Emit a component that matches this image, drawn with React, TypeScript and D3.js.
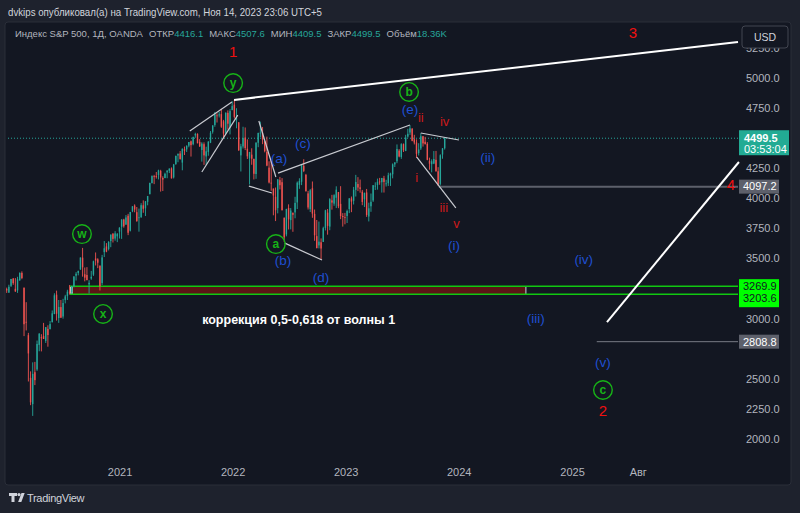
import React from "react";
import * as d3 from "d3";

// ---------- DATA ----------
const firstWeekMonday = "2019-12-30";
// weekly [open, high, low, close]
const weeklyOHLC: [number, number, number, number][] = [
  // 2020
  [3245, 3258, 3214, 3235], [3217, 3282, 3214, 3265], [3273, 3330, 3263, 3330], [3333, 3338, 3281, 3295],
  [3248, 3337, 3223, 3226], [3235, 3348, 3214, 3328], [3318, 3385, 3316, 3380], [3380, 3393, 3328, 3338],
  [3257, 3259, 2855, 2954], [2974, 3137, 2902, 2972], [2863, 2882, 2478, 2711], [2508, 2562, 2281, 2305],
  [2290, 2637, 2192, 2541], [2555, 2641, 2448, 2489], [2578, 2818, 2566, 2790], [2782, 2880, 2729, 2875],
  [2846, 2871, 2728, 2837], [2855, 2965, 2831, 2831], [2815, 2929, 2798, 2930], [2915, 2945, 2767, 2864],
  [2913, 2980, 2911, 2955], [2970, 3068, 2970, 3044], [3038, 3211, 3038, 3194], [3199, 3233, 2984, 3041],
  [3005, 3155, 2965, 3097], [3096, 3155, 3005, 3009], [3018, 3165, 3000, 3130], [3156, 3198, 3127, 3185],
  [3187, 3240, 3155, 3224], [3225, 3280, 3200, 3216], [3219, 3272, 3205, 3271], [3271, 3352, 3260, 3351],
  [3357, 3387, 3317, 3373], [3380, 3399, 3360, 3397], [3410, 3509, 3405, 3508], [3507, 3588, 3349, 3427],
  [3369, 3425, 3310, 3341], [3363, 3428, 3322, 3319], [3285, 3320, 3209, 3298], [3334, 3397, 3323, 3348],
  [3366, 3482, 3355, 3477], [3500, 3550, 3442, 3483], [3493, 3502, 3420, 3465], [3441, 3441, 3234, 3270],
  [3296, 3530, 3280, 3509], [3553, 3645, 3512, 3585], [3600, 3628, 3552, 3557], [3579, 3644, 3567, 3638],
  [3645, 3699, 3594, 3699], [3705, 3712, 3633, 3663], [3666, 3727, 3648, 3709], [3684, 3712, 3636, 3703],
  // 2021
  [3723, 3760, 3666, 3756], [3764, 3826, 3663, 3824], [3824, 3830, 3756, 3768], [3781, 3861, 3781, 3841],
  [3855, 3871, 3694, 3714], [3731, 3887, 3725, 3887], [3892, 3934, 3885, 3934], [3940, 3950, 3884, 3907],
  [3885, 3928, 3805, 3811], [3842, 3915, 3723, 3842], [3844, 3960, 3837, 3943], [3942, 3983, 3880, 3913],
  [3917, 3978, 3853, 3975], [3971, 4020, 3942, 4019], [4034, 4130, 4034, 4128], [4127, 4191, 4124, 4185],
  [4184, 4195, 4118, 4180], [4185, 4219, 4164, 4181], [4194, 4238, 4157, 4232], [4228, 4237, 4056, 4173],
  [4169, 4183, 4061, 4156], [4168, 4213, 4168, 4204], [4216, 4234, 4167, 4230], [4229, 4249, 4210, 4247],
  [4248, 4257, 4165, 4166], [4174, 4286, 4165, 4281], [4285, 4356, 4278, 4352], [4356, 4372, 4300, 4370],
  [4373, 4393, 4321, 4327], [4297, 4415, 4233, 4412], [4409, 4430, 4360, 4395], [4407, 4440, 4385, 4437],
  [4438, 4468, 4424, 4468], [4474, 4480, 4347, 4442], [4450, 4513, 4441, 4509], [4523, 4545, 4503, 4535],
  [4536, 4540, 4457, 4458], [4469, 4492, 4427, 4432], [4402, 4466, 4305, 4455], [4450, 4465, 4278, 4357],
  [4348, 4429, 4278, 4391], [4386, 4475, 4354, 4471], [4463, 4559, 4459, 4545], [4553, 4608, 4538, 4605],
  [4610, 4718, 4595, 4697], [4689, 4707, 4630, 4683], [4689, 4718, 4672, 4698], [4700, 4744, 4585, 4595],
  [4640, 4652, 4495, 4538], [4545, 4713, 4532, 4712], [4710, 4731, 4571, 4620], [4588, 4741, 4531, 4725],
  [4733, 4808, 4733, 4766],
  // 2022
  [4778, 4818, 4663, 4677], [4655, 4749, 4582, 4663], [4632, 4632, 4396, 4398], [4357, 4453, 4223, 4432],
  [4431, 4595, 4414, 4501], [4505, 4589, 4401, 4418], [4412, 4490, 4327, 4349], [4332, 4386, 4115, 4385],
  [4363, 4416, 4279, 4329], [4328, 4329, 4157, 4204], [4202, 4465, 4162, 4463], [4462, 4546, 4425, 4543],
  [4541, 4637, 4507, 4546], [4547, 4593, 4450, 4488], [4474, 4475, 4382, 4392], [4385, 4513, 4267, 4272],
  [4255, 4308, 4124, 4132], [4130, 4308, 4063, 4123], [4081, 4082, 3859, 4024], [4013, 4090, 3811, 3901],
  [3919, 4158, 3875, 4158], [4151, 4178, 4074, 4109], [4134, 4168, 3900, 3901], [3839, 3840, 3637, 3675],
  [3700, 3913, 3684, 3912], [3920, 3950, 3741, 3825], [3819, 3919, 3742, 3899], [3880, 3882, 3722, 3863],
  [3883, 4013, 3834, 3962], [3966, 4140, 3911, 4130], [4112, 4167, 4079, 4145], [4138, 4280, 4110, 4280],
  [4270, 4325, 4218, 4228], [4195, 4203, 4058, 4058], [4041, 4062, 3907, 3924], [3910, 4077, 3886, 4067],
  [4084, 4140, 3838, 3873], [3871, 3907, 3647, 3693], [3686, 3820, 3585, 3586], [3609, 3807, 3584, 3640],
  [3635, 3667, 3491, 3583], [3638, 3764, 3638, 3752], [3754, 3905, 3733, 3901], [3881, 3911, 3698, 3771],
  [3765, 4001, 3735, 3993], [3983, 4029, 3906, 3965], [3956, 4034, 3938, 4026], [4005, 4100, 3919, 4072],
  [4052, 4053, 3918, 3934], [3954, 4101, 3827, 3852], [3853, 3877, 3765, 3845], [3843, 3879, 3784, 3840],
  // 2023
  [3853, 3906, 3795, 3895], [3911, 4003, 3877, 3999], [3999, 4015, 3885, 3973], [3979, 4095, 3949, 4071],
  [4070, 4195, 4015, 4136], [4119, 4176, 4060, 4090], [4091, 4156, 4047, 4079], [4055, 4070, 3943, 3970],
  [3992, 4048, 3928, 4045], [4049, 4078, 3846, 3862], [3849, 3964, 3808, 3917], [3934, 4040, 3888, 3971],
  [3982, 4110, 3970, 4109], [4103, 4133, 4069, 4105], [4110, 4164, 4072, 4137], [4140, 4170, 4113, 4133],
  [4134, 4170, 4048, 4169], [4166, 4187, 4048, 4136], [4124, 4154, 4098, 4124], [4126, 4213, 4103, 4192],
  [4190, 4213, 4103, 4205], [4200, 4290, 4166, 4282], [4282, 4299, 4260, 4299], [4308, 4448, 4292, 4410],
  [4396, 4409, 4341, 4348], [4344, 4458, 4328, 4450], [4450, 4456, 4385, 4399], [4394, 4528, 4392, 4505],
  [4513, 4578, 4504, 4536], [4547, 4607, 4527, 4582], [4578, 4584, 4474, 4478], [4491, 4528, 4448, 4464],
  [4464, 4490, 4335, 4370], [4376, 4458, 4356, 4406], [4415, 4541, 4402, 4516], [4516, 4518, 4430, 4457],
  [4470, 4511, 4448, 4450], [4453, 4467, 4316, 4320], [4310, 4338, 4238, 4288], [4284, 4324, 4216, 4308],
  [4289, 4393, 4284, 4327], [4320, 4394, 4223, 4224], [4225, 4259, 4103, 4117], [4120, 4366, 4107, 4358],
  [4364, 4418, 4329, 4415], [4416, 4507.6, 4405, 4499.5],
];

const priceTicks = [2000, 2250, 2500, 2750, 3000, 3250, 3500, 3750, 4000, 4250, 4500, 4750, 5000, 5250];
const timeTicks: [string, string][] = [
  ["2021-01-01", "2021"], ["2022-01-01", "2022"], ["2023-01-01", "2023"],
  ["2024-01-01", "2024"], ["2025-01-01", "2025"], ["2025-08-01", "Авг"],
];

type Pt = [string, number];
const majorLines: [Pt, Pt][] = [
  [["2022-01-04", 4818], ["2026-06-19", 5299]],
  [["2025-04-22", 2972], ["2026-06-22", 4302]],
];
const minorLines: [Pt, Pt][] = [
  [["2021-08-14", 4560], ["2021-12-28", 4800]],
  [["2021-09-22", 4219], ["2022-01-16", 4692]],
  [["2022-03-25", 4643], ["2022-05-19", 4177]],
  [["2022-02-21", 4102], ["2022-05-06", 4044]],
  [["2022-05-26", 4210], ["2023-07-26", 4609]],
  [["2022-06-17", 3628], ["2022-10-15", 3487]],
  [["2023-08-17", 4343], ["2023-12-21", 3920]],
  [["2023-08-30", 4543], ["2023-12-31", 4485]],
];
const levelIII: { from: string; price: number } = { from: "2023-10-27", price: 4097.2 };
const levelTarget: { from: string; price: number } = { from: "2025-03-20", price: 2808.8 };
const zone = { from: "2020-07-23", to: "2024-08-03", top: 3269.9, bottom: 3203.6 };
const lastClose = 4499.5;

const circledLabels: [string, string, number][] = [
  ["y", "2022-01-01", 4958], ["b", "2023-07-23", 4884], ["w", "2020-08-31", 3703],
  ["x", "2020-11-07", 3039], ["a", "2022-05-19", 3620], ["c", "2025-04-09", 2407],
];
const blueLabels: [string, string, number][] = [
  ["(e)", "2023-07-26", 4742], ["(c)", "2022-08-14", 4460], ["(a)", "2022-05-29", 4335],
  ["(b)", "2022-06-11", 3487], ["(d)", "2022-10-12", 3346], ["(i)", "2023-12-15", 3612],
  ["(ii)", "2024-04-02", 4343], ["(iii)", "2024-09-04", 3005], ["(iv)", "2025-02-06", 3496],
  ["(v)", "2025-04-09", 2640],
];
const romanLabels: [string, string, number][] = [
  ["ii", "2023-08-30", 4676], ["iv", "2023-11-15", 4643], ["i", "2023-08-17", 4177],
  ["iii", "2023-11-12", 3928], ["v", "2023-12-23", 3795],
];
const degreeLabels: [string, string, number][] = [
  ["1", "2022-01-01", 5216], ["3", "2025-07-15", 5374], ["4", "2026-05-27", 4111], ["2", "2025-04-09", 2232],
];
const noteText: [string, string, number] = ["коррекция 0,5-0,618 от волны 1", "2021-09-23", 2989];

// ---------- LAYOUT ----------
const W = 800, H = 513;
const PANEL = { x: 5, y: 22, w: 786, h: 463 };
const AXIS_X = 738;
const FONT = "'Liberation Sans', Arial, sans-serif";
const UP = "#26a69a", DOWN = "#ef5350";

const D = (s: string) => new Date(s + "T00:00:00");
const x = d3.scaleTime().domain([D("2020-01-01"), D("2025-01-01")]).range([6.7, 572.6]);
const y = d3.scaleLinear().domain([2000, 5000]).range([439, 78]);

export default function App() {
  const start = D(firstWeekMonday);
  const candles = weeklyOHLC.map((c, i) => ({ t: d3.timeDay.offset(start, 7 * i + 2), o: c[0], h: c[1], l: c[2], c: c[3] }));
  const bw = 1.4;
  const line = (p: [Pt, Pt]) => ({ x1: x(D(p[0][0])), y1: y(p[0][1]), x2: x(D(p[1][0])), y2: y(p[1][1]) });
  // price-axis tags that cover axis ticks
  const tagCenters = [y(lastClose) + 4, y(levelIII.price), y(levelTarget.price), (y(zone.top) + y(zone.bottom)) / 2];
  const visibleTicks = priceTicks.filter((p) => tagCenters.every((c) => Math.abs(y(p) - c) > 9));

  return (
    <svg width={W} height={H} style={{ position: "absolute", left: 0, top: 0, fontFamily: FONT }}>
      <rect width={W} height={H} fill="#1e222d" />
      <text x={8} y={16} fontSize={10.5} fill="#d1d4dc" textLength={314} lengthAdjust="spacingAndGlyphs">dvkips опубликовал(а) на TradingView.com, Ноя 14, 2023 23:06 UTC+5</text>
      <rect x={PANEL.x} y={PANEL.y} width={PANEL.w} height={PANEL.h} rx={3} fill="#131722" stroke="#2a2e39" />

      {/* legend */}
      <text x={15} y={37} fontSize={9.5} fill="#b2b5be">
        <tspan>Индекс S&amp;P 500, 1Д, OANDA  </tspan>
        <tspan dx={4}>ОТКР</tspan><tspan fill={UP}>4416.1</tspan>
        <tspan dx={6}>МАКС</tspan><tspan fill={UP}>4507.6</tspan>
        <tspan dx={6}>МИН</tspan><tspan fill={UP}>4409.5</tspan>
        <tspan dx={6}>ЗАКР</tspan><tspan fill={UP}>4499.5</tspan>
        <tspan dx={6}>Объём</tspan><tspan fill={UP}>18.36K</tspan>
      </text>

      {/* zone */}
      <rect x={x(D(zone.from))} y={y(zone.top)} width={x(D(zone.to)) - x(D(zone.from))} height={y(zone.bottom) - y(zone.top)} fill="#5c1515" />
      <rect x={x(D(zone.from))} y={y(zone.top)} width={3} height={y(zone.bottom) - y(zone.top)} fill="#c8c8c8" />
      <line x1={x(D(zone.to))} x2={x(D(zone.to))} y1={y(zone.top)} y2={y(zone.bottom)} stroke="#9598a1" strokeWidth={1.5} />
      <line x1={x(D(zone.from))} x2={AXIS_X} y1={y(zone.top)} y2={y(zone.top)} stroke="#11c811" strokeWidth={1.5} />
      <line x1={x(D(zone.from))} x2={AXIS_X} y1={y(zone.bottom)} y2={y(zone.bottom)} stroke="#11c811" strokeWidth={1.5} />

      {/* last price line */}
      <line x1={8} x2={AXIS_X} y1={y(lastClose)} y2={y(lastClose)} stroke={UP} strokeDasharray="1 2" strokeWidth={1} />

      {/* candles */}
      {candles.map((c, i) => {
        const cx = x(c.t);
        const col = c.c >= c.o ? UP : DOWN;
        const top = y(Math.max(c.o, c.c)), bot = y(Math.min(c.o, c.c));
        return (
          <g key={i}>
            <line x1={cx} x2={cx} y1={y(c.h)} y2={y(c.l)} stroke={col} strokeWidth={0.9} />
            <rect x={cx - bw / 2} y={top} width={bw} height={Math.max(0.8, bot - top)} fill={col} />
          </g>
        );
      })}

      {/* level lines */}
      <line x1={x(D(levelIII.from))} x2={AXIS_X} y1={y(levelIII.price)} y2={y(levelIII.price)} stroke="#5d606b" strokeWidth={2} />
      <line x1={x(D(levelTarget.from))} x2={AXIS_X} y1={y(levelTarget.price)} y2={y(levelTarget.price)} stroke="#787b86" strokeWidth={1} />

      {/* trend lines */}
      {minorLines.map((p, i) => <line key={"m" + i} {...line(p)} stroke="#c9cbd1" strokeWidth={1.2} />)}
      {majorLines.map((p, i) => <line key={"M" + i} {...line(p)} stroke="#ffffff" strokeWidth={2} />)}

      {/* wave labels */}
      {circledLabels.map(([t, d, p], i) => (
        <g key={"c" + i} transform={`translate(${x(D(d))},${y(p)})`}>
          <circle r={9.3} fill="none" stroke="#17b317" strokeWidth={1.4} />
          <text textAnchor="middle" dy="0.35em" fontSize={12} fontWeight="bold" fill="#17b317">{t}</text>
        </g>
      ))}
      {blueLabels.map(([t, d, p], i) => (
        <text key={"b" + i} x={x(D(d))} y={y(p)} dy="0.35em" textAnchor="middle" fontSize={13.5} fill="#1f4fd1">{t}</text>
      ))}
      {romanLabels.map(([t, d, p], i) => (
        <text key={"r" + i} x={x(D(d))} y={y(p)} dy="0.35em" textAnchor="middle" fontSize={13} fill="#cc1a1a">{t}</text>
      ))}
      {degreeLabels.map(([t, d, p], i) => (
        <text key={"d" + i} x={x(D(d))} y={y(p)} dy="0.35em" textAnchor="middle" fontSize={15} fill="#f01010">{t}</text>
      ))}
      <text x={x(D(noteText[1]))} y={y(noteText[2])} dy="0.35em" fontSize={12.5} fontWeight="bold" fill="#ffffff">{noteText[0]}</text>

      {/* price axis */}
      {visibleTicks.map((p) => (
        <text key={p} x={746} y={y(p)} dy="0.35em" fontSize={11} fill="#b2b5be">{p.toFixed(1)}</text>
      ))}
      <rect x={742} y={26} width={46} height={22} rx={3} fill="#131722" stroke="#434651" />
      <text x={765} y={37} dy="0.35em" textAnchor="middle" fontSize={10.5} fill="#d1d4dc">USD</text>

      <rect x={739} y={y(lastClose) - 8} width={50} height={25} fill="#22ab94" />
      <text x={744} y={y(lastClose)} dy="0.35em" fontSize={11} fontWeight="bold" fill="#ffffff">{lastClose.toFixed(1)}</text>
      <text x={744} y={y(lastClose) + 11} dy="0.35em" fontSize={11} fill="#ffffff">03:53:04</text>

      <rect x={739} y={y(levelIII.price) - 7} width={40} height={14} fill="#5d606b" />
      <text x={743} y={y(levelIII.price)} dy="0.35em" fontSize={11} fill="#ffffff">{levelIII.price.toFixed(1)}</text>
      <rect x={739} y={y(levelTarget.price) - 7} width={40} height={14} fill="#5d606b" />
      <text x={743} y={y(levelTarget.price)} dy="0.35em" fontSize={11} fill="#ffffff">{levelTarget.price.toFixed(1)}</text>

      <rect x={739} y={y(zone.top) - 7} width={40} height={28} fill="#00ff00" />
      <text x={743} y={y(zone.top)} dy="0.35em" fontSize={11} fill="#131722">{zone.top.toFixed(1)}</text>
      <text x={743} y={y(zone.bottom) + 4} dy="0.35em" fontSize={11} fill="#131722">{zone.bottom.toFixed(1)}</text>

      {/* time axis */}
      {timeTicks.map(([d, l]) => (
        <text key={l} x={x(D(d))} y={472} dy="0.35em" textAnchor="middle" fontSize={11} fill="#b2b5be">{l}</text>
      ))}

      {/* logo */}
      <g fill="#d1d4dc">
        <path d="M9,493 h8 v3 h-2.5 v6 h-3 v-6 h-2.5 z" />
        <circle cx={19} cy={494.6} r={1.6} />
        <path d="M21.5,493 h3.2 l-3.4,9 h-3.2 z" />
      </g>
      <text x={27} y={498} dy="0.35em" fontSize={11} fill="#d1d4dc" letterSpacing={-0.3}>TradingView</text>
    </svg>
  );
}
